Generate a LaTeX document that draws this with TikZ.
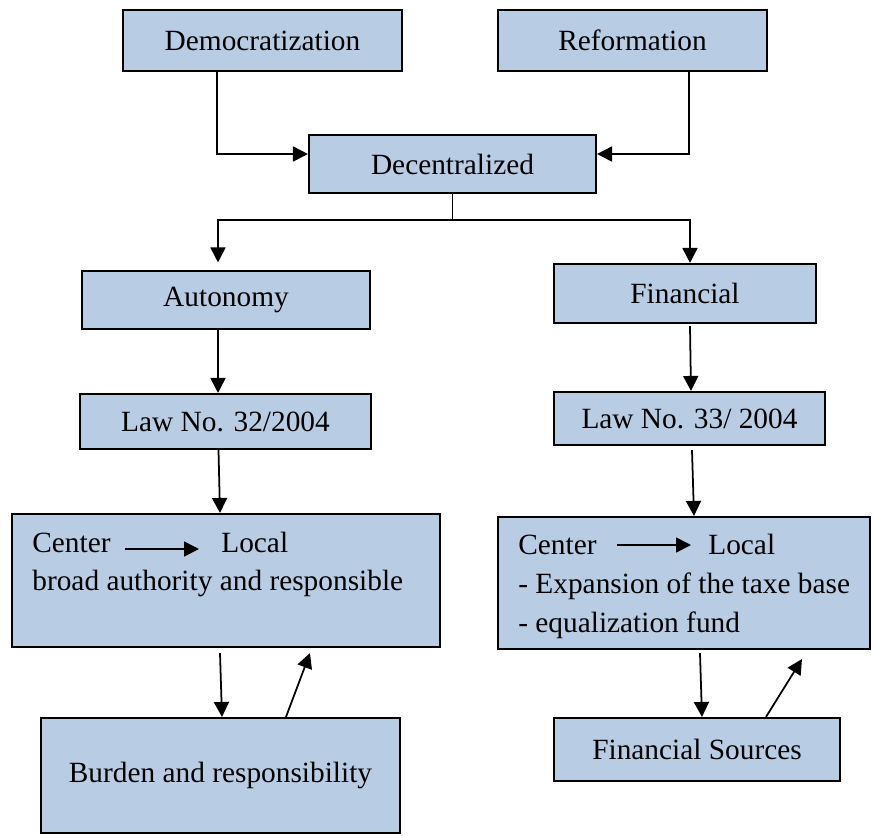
\documentclass[tikz,border=0pt]{standalone}
\usepackage{fontspec}
\setmainfont{Liberation Serif}
\usepackage{tikz}
\usetikzlibrary{calc,arrows.meta}
\usepackage{xcolor}
\definecolor{boxblue}{HTML}{B8CCE4}

\begin{document}
\begin{tikzpicture}[
        box/.style={draw=black, fill=boxblue, line width=1.2pt, inner sep=0pt, align=center},
        txt/.style={inner sep=0pt},
        arr/.style={-{Triangle[length=0.30cm,width=0.30cm]}, line width=1pt},
        every node/.style={font=\fontsize{16.7}{22}\selectfont}
    ]
        \useasboundingbox (0,0) rectangle (17.48,-16.7);

        \node[box, minimum width=5.58cm, minimum height=1.22cm] (demo) at (5.25,-0.81) {Democratization};
        \node[box, minimum width=5.38cm, minimum height=1.22cm] (reform) at (12.65,-0.81) {Reformation};
        \node[box, minimum width=5.74cm, minimum height=1.16cm] (decent) at (9.05,-3.28) {Decentralized};
        \node[box, minimum width=5.76cm, minimum height=1.16cm] (auton) at (4.52,-6.00) {Autonomy};
        \node[box, minimum width=5.24cm, minimum height=1.18cm] (finan) at (13.70,-5.87) {Financial};
        \node[box, minimum width=5.82cm, minimum height=1.10cm] (law32) at (4.51,-8.43) {Law No. 32/2004};
        \node[box, minimum width=5.42cm, minimum height=1.06cm] (law33) at (13.79,-8.37) {Law No. 33/ 2004};
        \node[box, minimum width=8.56cm, minimum height=2.66cm] (bigL) at (4.52,-11.61) {};
        \node[box, minimum width=7.44cm, minimum height=2.64cm] (bigR) at (13.68,-11.66) {};
        \node[box, minimum width=7.18cm, minimum height=2.30cm] (burden) at (4.41,-15.51) {Burden and responsibility};
        \node[box, minimum width=5.72cm, minimum height=1.26cm] (fsrc) at (13.94,-14.99) {Financial Sources};

        \node[txt, anchor=base west] (cenL) at (0.64,-11.04) {Center};
        \node[txt, anchor=base west] (locL) at (4.42,-11.04) {Local};
        \node[txt, anchor=base west] (brd) at (0.64,-11.80) {broad authority and responsible};
        \node[txt, anchor=base west] (cenR) at (10.36,-11.08) {Center};
        \node[txt, anchor=base west] (locR) at (14.16,-11.08) {Local};
        \node[txt, anchor=base west] (expn) at (10.36,-11.86) {- Expansion of the taxe base};
        \node[txt, anchor=base west] (equ) at (10.36,-12.64) {- equalization fund};

        \draw[arr] ([xshift=0.28cm,yshift=0.06cm]cenL.base east) -- ([xshift=-0.44cm,yshift=0.06cm]locL.base west);
        \draw[arr] ([xshift=0.40cm,yshift=0.18cm]cenR.base east) -- ([xshift=-0.34cm,yshift=0.18cm]locR.base west);

        \draw[arr] ([xshift=-0.91cm]demo.south) |- ([yshift=0.2cm]decent.west);
        \draw[arr] ([xshift=1.13cm]reform.south) |- ([yshift=0.2cm]decent.east);
        \draw[line width=1pt] (decent.south) -- ++(0,-0.52) coordinate (split);
        \draw[arr] (split) -| ([xshift=-0.16cm,yshift=0.15cm]auton.north);
        \draw[arr] (split) -| ([xshift=0.10cm]finan.north);

        \draw[arr] ([xshift=-0.16cm]auton.south) -- ([xshift=-0.15cm]law32.north);
        \draw[arr] ([xshift=0.10cm,yshift=-0.04cm]finan.south) -- ([xshift=0.03cm]law33.north);
        \draw[arr] ([xshift=-0.14cm]law32.south) -- ([xshift=-0.12cm]bigL.north);
        \draw[arr] ([xshift=0.05cm,yshift=-0.08cm]law33.south) -- ([xshift=0.20cm]bigR.north);

        \draw[arr] ([xshift=-0.12cm,yshift=-0.1cm]bigL.south) -- ([xshift=0.03cm]burden.north);
        \draw[arr] ([xshift=1.31cm]burden.north) -- ([xshift=1.68cm,yshift=-0.1cm]bigL.south);
        \draw[arr] ([xshift=0.32cm,yshift=-0.06cm]bigR.south) -- ([xshift=0.10cm]fsrc.north);
        \draw[arr] ([xshift=1.38cm]fsrc.north) -- ([xshift=2.36cm,yshift=-0.18cm]bigR.south);

    \end{tikzpicture}
\end{document}
